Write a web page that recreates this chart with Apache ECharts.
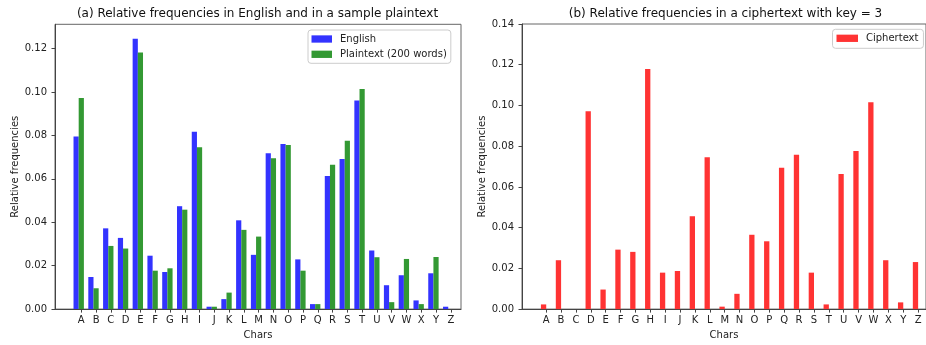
<!DOCTYPE html>
<html>
<head>
<meta charset="utf-8">
<script src="https://cdn.jsdelivr.net/npm/echarts@6/dist/echarts.min.js"></script>
<style>
html,body{margin:0;padding:0;background:#fff;}
#chart{width:926px;height:345px;}
</style>
</head>
<body>
<div id="chart"></div>
<script>
// ---- data ----
const letters = ['A','B','C','D','E','F','G','H','I','J','K','L','M','N','O','P','Q','R','S','T','U','V','W','X','Y','Z'];
const english = [0.0795,0.0148,0.0372,0.0328,0.1246,0.0246,0.0171,0.0474,0.0817,0.0011,0.0046,0.0409,0.0250,0.0718,0.0760,0.0229,0.0023,0.0613,0.0691,0.0961,0.0270,0.0110,0.0156,0.0040,0.0165,0.0011];
const plaintext = [0.0973,0.0096,0.0291,0.0279,0.1182,0.0177,0.0188,0.0458,0.0746,0.0011,0.0076,0.0365,0.0334,0.0695,0.0756,0.0177,0.0023,0.0665,0.0776,0.1014,0.0239,0.0032,0.0231,0.0023,0.0240,0.0];
const ciphertext = [0.0023,0.0240,0.0,0.0972,0.0096,0.0292,0.0281,0.1179,0.0179,0.0187,0.0456,0.0746,0.0012,0.0075,0.0365,0.0333,0.0694,0.0758,0.0179,0.0023,0.0664,0.0776,0.1016,0.0240,0.0033,0.0231];
const yTicksA = [0,0.02,0.04,0.06,0.08,0.10,0.12];
const yTicksB = [0,0.02,0.04,0.06,0.08,0.10,0.12,0.14];
const titleA = '(a) Relative frequencies in English and in a sample plaintext';
const titleB = '(b) Relative frequencies in a ciphertext with key = 3';

// ---- chart ----
const FONT = 'DejaVu Sans';
const tickIdx = letters.map((_, i) => i);
const chart = echarts.init(document.getElementById('chart'), null, {renderer: 'canvas'});

function xAxisCfg(gridIndex, min, max) {
  return {
    type: 'value', gridIndex, min, max,
    name: 'Chars', nameLocation: 'middle', nameGap: 20,
    nameTextStyle: {fontFamily: FONT, fontSize: 10, color: '#222'},
    axisLine: {show: true, onZero: false, lineStyle: {color: '#444', width: 1}},
    axisTick: {show: true, length: 3.5, lineStyle: {color: '#444'}, customValues: tickIdx},
    axisLabel: {customValues: tickIdx, formatter: v => letters[Math.round(v)],
      fontFamily: FONT, fontSize: 10, color: '#222', margin: 6},
    splitLine: {show: false}
  };
}
function yAxisCfg(gridIndex, max, ticks) {
  return {
    type: 'value', gridIndex, min: 0, max,
    name: 'Relative frequencies', nameLocation: 'middle', nameGap: 35,
    nameTextStyle: {fontFamily: FONT, fontSize: 10, color: '#222'},
    axisLine: {show: true, onZero: false, lineStyle: {color: '#444', width: 1}},
    axisTick: {show: true, length: 3.5, lineStyle: {color: '#444'}, customValues: ticks},
    axisLabel: {customValues: ticks, formatter: v => v.toFixed(2),
      fontFamily: FONT, fontSize: 10, color: '#222', margin: 8},
    splitLine: {show: false}
  };
}

const option = {
  animation: false,
  backgroundColor: '#fff',
  title: [
    {text: titleA, left: 257.5, top: 14, textAlign: 'center', textVerticalAlign: 'middle', padding: 0,
     textStyle: {fontFamily: FONT, fontSize: 12, fontWeight: 'normal', color: '#111'}},
    {text: titleB, left: 725.5, top: 13.5, textAlign: 'center', textVerticalAlign: 'middle', padding: 0,
     textStyle: {fontFamily: FONT, fontSize: 12, fontWeight: 'normal', color: '#111'}}
  ],
  grid: [
    {left: 55, top: 24.3, width: 406, height: 286.7, show: true, borderColor: '#666', borderWidth: 1, backgroundColor: 'transparent'},
    {left: 522, top: 24, width: 406, height: 287.7, show: true, borderColor: '#666', borderWidth: 1, backgroundColor: 'transparent'}
  ],
  legend: [
    {data: ['English', 'Plaintext (200 words)'], orient: 'vertical', left: 308, top: 30,
     itemWidth: 20.5, itemHeight: 7.3, itemGap: 3.3, icon: 'rect',
     padding: [3, 4, 3, 3.5], borderColor: '#ccc', borderWidth: 1, borderRadius: 3, backgroundColor: '#fff',
     textStyle: {fontFamily: FONT, fontSize: 10, color: '#222', lineHeight: 12, padding: [0, 0, 0, 3]}},
    {data: ['Ciphertext'], orient: 'vertical', left: 832.5, top: 29.3,
     itemWidth: 21.5, itemHeight: 7.3, icon: 'rect',
     padding: [3, 5, 4, 4], borderColor: '#ccc', borderWidth: 1, borderRadius: 3, backgroundColor: '#fff',
     textStyle: {fontFamily: FONT, fontSize: 10, color: '#222', lineHeight: 12, padding: [0, 0, 0, 3]}}
  ],
  xAxis: [xAxisCfg(0, -1.779, 25.69), xAxisCfg(1, -1.625, 25.532)],
  yAxis: [yAxisCfg(0, 0.1312, yTicksA), yAxisCfg(1, 0.14, yTicksB)],
  series: [
    {name: 'English', type: 'bar', xAxisIndex: 0, yAxisIndex: 0, barWidth: 5.2, barGap: '-100%',
     itemStyle: {color: '#3333ff'}, data: english.map((v, i) => [i - 0.35, v])},
    {name: 'Plaintext (200 words)', type: 'bar', xAxisIndex: 0, yAxisIndex: 0, barWidth: 5.2, barGap: '-100%',
     itemStyle: {color: '#339933'}, data: plaintext.map((v, i) => [i, v])},
    {name: 'Ciphertext', type: 'bar', xAxisIndex: 1, yAxisIndex: 1, barWidth: 5.3,
     itemStyle: {color: '#ff3333'}, data: ciphertext.map((v, i) => [i - 0.175, v])}
  ]
};
chart.setOption(option);
</script>
</body>
</html>
